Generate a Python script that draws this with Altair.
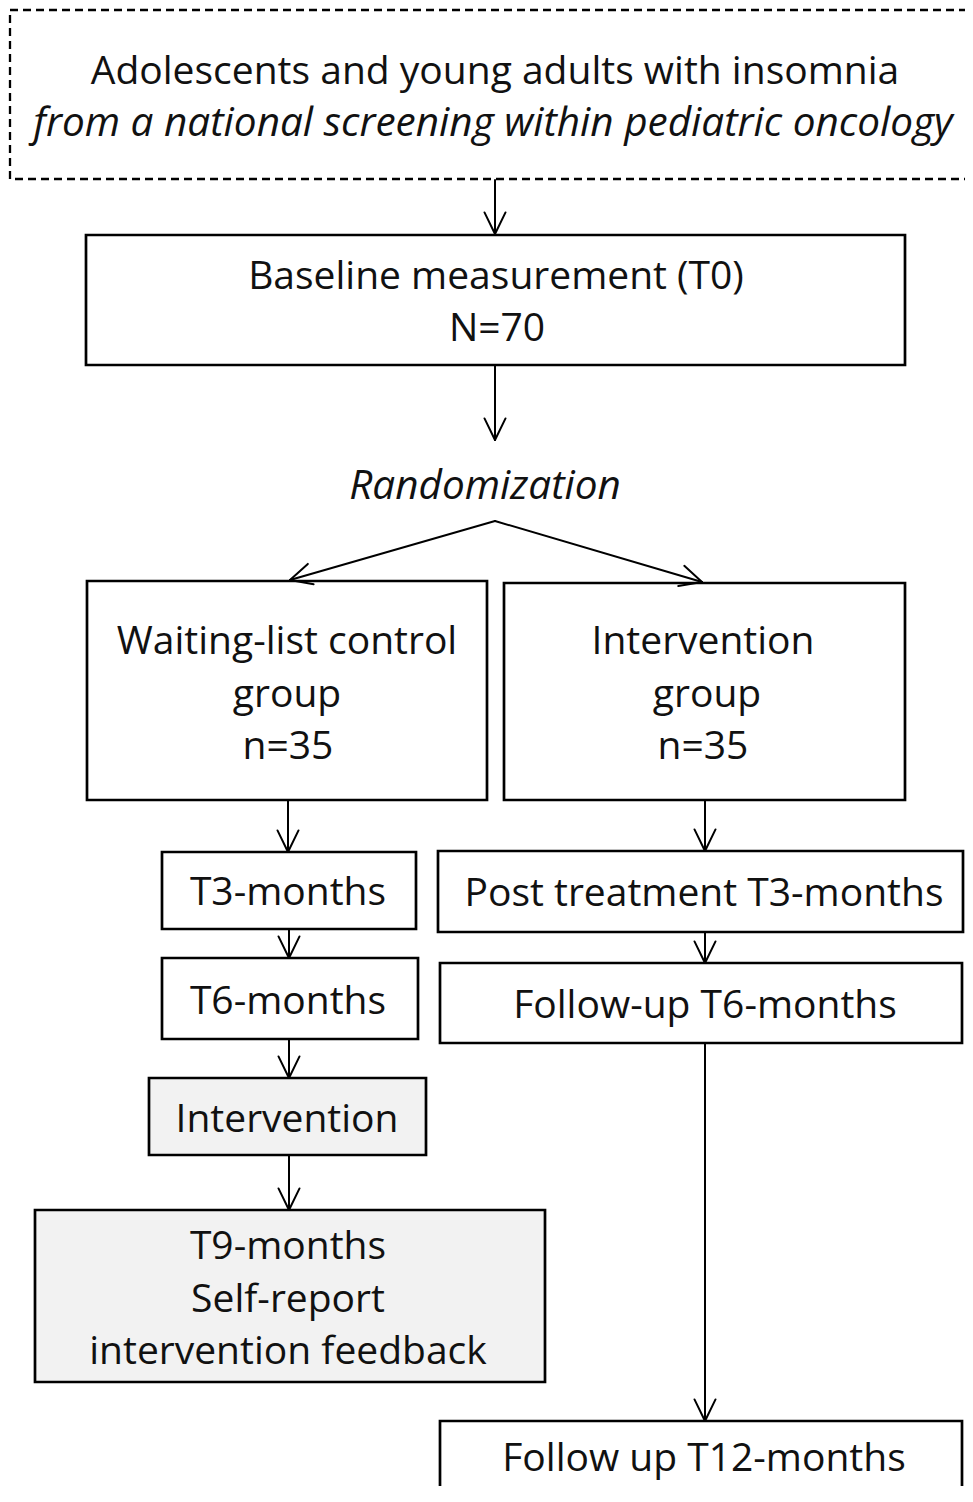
import math
import altair as alt
import pandas as pd

# ---- boxes (image pixel coordinates) ----
box_names = ["source", "baseline", "control", "intervention_grp", "t3_ctrl", "t6_ctrl",
             "interv_ctrl", "t9_ctrl", "post_t3", "fu_t6", "fu_t12"]
box_x0 = [10, 86, 87, 504, 162, 162, 149, 35, 438, 440, 440]
box_x1 = [985, 905, 487, 905, 416, 418, 426, 545, 963, 962, 962]
box_y0 = [10, 235, 581, 583, 852, 958, 1078, 1210, 851, 963, 1421]
box_y1 = [179, 365, 800, 800, 929, 1039, 1155, 1382, 932, 1043, 1520]
box_shaded = [False, False, False, False, False, False, True, True, False, False, False]
box_dashed = [True, False, False, False, False, False, False, False, False, False, False]

# ---- arrows: start -> tip ----
arrow_x0 = [495, 495, 495, 495, 288, 705, 289, 289, 289, 705, 705]
arrow_y0 = [180, 365, 521, 521, 800, 800, 929, 1039, 1155, 932, 1043]
arrow_x1 = [495, 495, 290, 702, 288, 705, 289, 289, 289, 705, 705]
arrow_y1 = [234, 440, 580, 582, 852, 851, 958, 1078, 1210, 963, 1421]

# ---- text labels ----
labels = [
    "Adolescents and young adults with insomnia",
    "from a national screening within pediatric oncology",
    "Baseline measurement (T0)", "N=70",
    "Randomization",
    "Waiting-list control", "group", "n=35",
    "Intervention", "group", "n=35",
    "T3-months", "T6-months", "Intervention",
    "T9-months", "Self-report", "intervention feedback",
    "Post treatment T3-months", "Follow-up T6-months", "Follow up T12-months",
]
label_x = [495, 493, 496, 497, 485, 287, 287, 288, 703, 707, 703,
           288, 288, 287, 288, 288, 288, 704, 705, 704]
label_y = [70, 122, 275, 327, 485, 640, 693, 745, 640, 693, 745,
           891, 1000, 1118, 1245, 1298, 1350, 892, 1004, 1457]
label_italic = [False, True, False, False, True] + [False] * 15

boxes = pd.DataFrame({"name": box_names, "x0": box_x0, "x1": box_x1, "y0": box_y0,
                      "y1": box_y1, "shaded": box_shaded, "dashed": box_dashed})

# shafts and arrowhead arms
segs = []
HEAD_LEN = 24
HEAD_ANG = math.radians(26)
for sx, sy, tx, ty in zip(arrow_x0, arrow_y0, arrow_x1, arrow_y1):
    segs.append({"x0": sx, "y0": sy, "x1": tx, "y1": ty})
    dx, dy = tx - sx, ty - sy
    ln = math.hypot(dx, dy)
    ux, uy = dx / ln, dy / ln
    for sgn in (1, -1):
        c, s = math.cos(sgn * HEAD_ANG), math.sin(sgn * HEAD_ANG)
        rx, ry = ux * c - uy * s, ux * s + uy * c
        segs.append({"x0": tx, "y0": ty, "x1": tx - HEAD_LEN * rx, "y1": ty - HEAD_LEN * ry})
arrows = pd.DataFrame(segs)

texts = pd.DataFrame({"label": labels, "x": label_x, "y": label_y, "italic": label_italic})

# plot area sits at page offset (8, 8); domains equal image pixel coordinates
W, H = 957, 1478
xs = alt.Scale(domain=[8, 8 + W], nice=False, zero=False)
ys = alt.Scale(domain=[8, 8 + H], nice=False, zero=False, reverse=True)
X = lambda f: alt.X(f, type="quantitative", scale=xs, axis=None)
Y = lambda f: alt.Y(f, type="quantitative", scale=ys, axis=None)

solid = alt.Chart(boxes).transform_filter("!datum.dashed").mark_rect(
    stroke="black", strokeWidth=2.7
).encode(
    x=X("x0"), x2="x1", y=Y("y0"), y2="y1",
    fill=alt.condition("datum.shaded", alt.value("#f2f2f2"), alt.value("white")),
)

dashed = alt.Chart(boxes).transform_filter("datum.dashed").mark_rect(
    stroke="black", strokeWidth=2.3, strokeDash=[8, 5], fill="white"
).encode(x=X("x0"), x2="x1", y=Y("y0"), y2="y1")

lines = alt.Chart(arrows).mark_rule(color="black", strokeWidth=2, strokeCap="round").encode(
    x=X("x0"), x2="x1", y=Y("y0"), y2="y1"
)

FONT = "Open Sans, Noto Sans, sans-serif"
text_plain = alt.Chart(texts).transform_filter("!datum.italic").mark_text(
    font=FONT, fontSize=39, color="#111111", align="center", baseline="middle", dy=2
).encode(x=X("x"), y=Y("y"), text="label:N")

text_italic = alt.Chart(texts).transform_filter("datum.italic").mark_text(
    font=FONT, fontSize=40.5, fontStyle="italic", color="#111111", align="center",
    baseline="middle", dy=2
).encode(x=X("x"), y=Y("y"), text="label:N")

chart = alt.layer(solid, dashed, lines, text_plain, text_italic).properties(
    width=W, height=H, padding=0, background="white",
    autosize=alt.AutoSizeParams(type="none")
).configure_view(stroke=None)

chart.save("out.html", embed_options={"renderer": "svg", "actions": False})
